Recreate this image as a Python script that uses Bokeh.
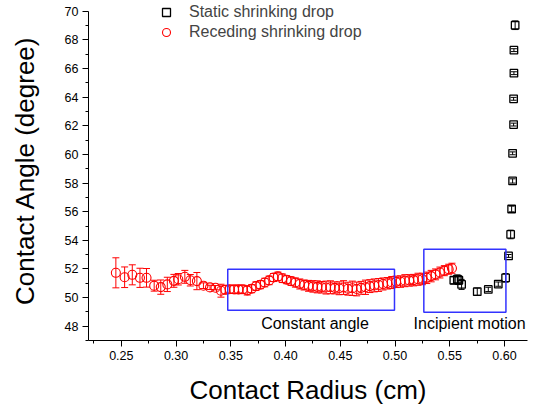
from bokeh.plotting import figure
from bokeh.models import (Range1d, FixedTicker, NumeralTickFormatter, Whisker, TeeHead,
                          ColumnDataSource, Legend, LegendItem, Label, BoxAnnotation)
from bokeh.embed import file_html
from bokeh.resources import INLINE

# Receding shrinking drop (red circles)
red_x = [0.245, 0.253, 0.260, 0.267, 0.273, 0.280, 0.286, 0.292, 0.298, 0.302, 0.308, 0.313,
         0.319, 0.325, 0.331, 0.336, 0.341,
         0.345, 0.349, 0.353, 0.357, 0.361, 0.365, 0.369, 0.373, 0.377, 0.381, 0.385, 0.389,
         0.393, 0.397, 0.401, 0.405, 0.409, 0.413, 0.417, 0.421, 0.425, 0.429, 0.433, 0.437,
         0.441, 0.445, 0.449, 0.453, 0.457, 0.461, 0.465, 0.469, 0.473, 0.477, 0.481, 0.485,
         0.489, 0.493, 0.497, 0.501, 0.505, 0.509, 0.513, 0.517, 0.521, 0.525, 0.529, 0.533,
         0.537, 0.541, 0.545, 0.549, 0.552]
red_y = [51.73, 51.42, 51.59, 51.38, 51.38, 50.83, 50.73, 50.92, 51.17, 51.28, 51.45, 51.21,
         51.15, 50.83, 50.71, 50.69, 50.48,
         50.55, 50.58, 50.57, 50.57, 50.58, 50.50, 50.62, 50.80, 50.90, 51.05, 51.20, 51.40,
         51.48, 51.35, 51.25, 51.15, 51.05, 50.95, 50.88, 50.82, 50.78, 50.75, 50.72, 50.70,
         50.72, 50.68, 50.65, 50.70, 50.62, 50.65, 50.60, 50.68, 50.72, 50.80, 50.85, 50.88,
         50.95, 51.00, 51.05, 51.10, 51.12, 51.18, 51.20, 51.22, 51.28, 51.30, 51.38, 51.50,
         51.62, 51.75, 51.88, 51.98, 52.05]
red_err = [1.05, 0.72, 0.70, 0.67, 0.65, 0.38, 0.50, 0.50, 0.45, 0.40, 0.45, 0.40,
           0.60, 0.20, 0.15, 0.15, 0.45,
           0.30, 0.28, 0.28, 0.30, 0.28, 0.32, 0.28, 0.30, 0.28, 0.30, 0.30, 0.28,
           0.30, 0.30, 0.28, 0.30, 0.32, 0.35, 0.35, 0.38, 0.40, 0.42, 0.40, 0.45,
           0.45, 0.42, 0.45, 0.48, 0.45, 0.50, 0.48, 0.45, 0.50, 0.45, 0.45, 0.45,
           0.42, 0.40, 0.42, 0.40, 0.40, 0.42, 0.40, 0.40, 0.42, 0.40, 0.40, 0.40,
           0.38, 0.38, 0.35, 0.35, 0.35]

# Static shrinking drop (black squares)
blk_x = [0.5537, 0.5569, 0.5583, 0.5608, 0.5751, 0.5852, 0.5943, 0.6010, 0.6037, 0.6056,
         0.6065, 0.6074, 0.6074, 0.6083, 0.6083, 0.6086, 0.6086, 0.6097]
blk_y = [51.21, 51.28, 51.21, 50.92, 50.41, 50.57, 50.94, 51.38, 52.91, 54.41,
         56.19, 58.15, 60.08, 62.09, 63.89, 65.68, 67.29, 69.03]
blk_err = [0.25, 0.30, 0.30, 0.35, 0.25, 0.15, 0.15, 0.30, 0.10, 0.30,
           0.20, 0.15, 0.10, 0.10, 0.10, 0.10, 0.10, 0.30]

x_ticks = [0.25, 0.30, 0.35, 0.40, 0.45, 0.50, 0.55, 0.60]
x_minor = [0.225, 0.275, 0.325, 0.375, 0.425, 0.475, 0.525, 0.575]
y_ticks = [48, 50, 52, 54, 56, 58, 60, 62, 64, 66, 68, 70]
y_minor = [47, 49, 51, 53, 55, 57, 59, 61, 63, 65, 67, 69]

FONT = "Liberation Sans"

p = figure(width=536, height=407, output_backend="svg", toolbar_location=None,
           x_range=Range1d(0.22, 0.621), y_range=Range1d(47, 70.76),
           min_border_left=88, min_border_right=9, min_border_top=0, min_border_bottom=65)
p.outline_line_color = None
p.xgrid.visible = False
p.ygrid.visible = False
p.background_fill_color = "white"
p.border_fill_color = "white"

for ax in (p.xaxis[0], p.yaxis[0]):
    ax.axis_line_color = "black"
    ax.major_tick_line_color = "black"
    ax.minor_tick_line_color = "black"
    ax.major_tick_out = 6
    ax.major_tick_in = 0
    ax.minor_tick_out = 3
    ax.minor_tick_in = 0
    ax.major_label_text_font = FONT
    ax.major_label_text_font_size = "12.5px"
    ax.major_label_text_color = "black"
    ax.axis_label_text_font = FONT
    ax.axis_label_text_font_size = "26px"
    ax.axis_label_text_font_style = "normal"
    ax.axis_label_text_color = "black"
    ax.major_label_standoff = 4

p.yaxis.bounds = (47, 70)
p.xaxis.ticker = FixedTicker(ticks=x_ticks, minor_ticks=x_minor)
p.yaxis.ticker = FixedTicker(ticks=y_ticks, minor_ticks=y_minor)
p.xaxis.formatter = NumeralTickFormatter(format="0.00")
p.yaxis.formatter = NumeralTickFormatter(format="0")
p.xaxis.axis_label = "Contact Radius (cm)"
p.yaxis.axis_label = "Contact Angle (degree)"
p.xaxis.axis_label_standoff = 12
p.yaxis.axis_label_standoff = 22

red_src = ColumnDataSource(dict(x=red_x, y=red_y,
                                lo=[y - e for y, e in zip(red_y, red_err)],
                                hi=[y + e for y, e in zip(red_y, red_err)]))
blk_src = ColumnDataSource(dict(x=blk_x, y=blk_y,
                                lo=[y - e for y, e in zip(blk_y, blk_err)],
                                hi=[y + e for y, e in zip(blk_y, blk_err)]))

# boxes
p.add_layout(BoxAnnotation(left=0.3472, right=0.4995, bottom=49.11, top=51.98,
                           fill_alpha=0, line_color="#3333ff", line_alpha=1, line_width=1.5))
p.add_layout(BoxAnnotation(left=0.5263, right=0.6013, bottom=48.97, top=53.37,
                           fill_alpha=0, line_color="#3333ff", line_alpha=1, line_width=1.5))

p.add_layout(Whisker(source=red_src, base="x", upper="hi", lower="lo", line_color="red",
                     line_width=1,
                     upper_head=TeeHead(size=7, line_color="red", line_width=1),
                     lower_head=TeeHead(size=7, line_color="red", line_width=1)))
red = p.scatter("x", "y", source=red_src, marker="circle", size=9, fill_color=None,
                line_color="red", line_width=1.1)

p.add_layout(Whisker(source=blk_src, base="x", upper="hi", lower="lo", line_color="black",
                     line_width=1,
                     upper_head=TeeHead(size=6, line_color="black", line_width=1),
                     lower_head=TeeHead(size=6, line_color="black", line_width=1)))
blk = p.scatter("x", "y", source=blk_src, marker="square", size=7.5, fill_color=None,
                line_color="black", line_width=1.3)

p.add_layout(Label(x=0.3777, y=48.2, text="Constant angle", text_baseline="middle",
                   text_font=FONT, text_font_size="16px", text_color="black"))
p.add_layout(Label(x=0.5169, y=48.2, text="Incipient motion", text_baseline="middle",
                   text_font=FONT, text_font_size="16px", text_color="black"))

legend = Legend(items=[LegendItem(label="Static shrinking drop", renderers=[blk]),
                       LegendItem(label="Receding shrinking drop", renderers=[red])],
                location=(68, 298), border_line_alpha=0, background_fill_alpha=0,
                label_text_font=FONT, label_text_font_size="16px", padding=0, spacing=0,
                margin=0, label_standoff=13, glyph_width=20, glyph_height=20,
                label_height=20)
p.add_layout(legend)

open("out.html", "w").write(file_html(p, INLINE))
